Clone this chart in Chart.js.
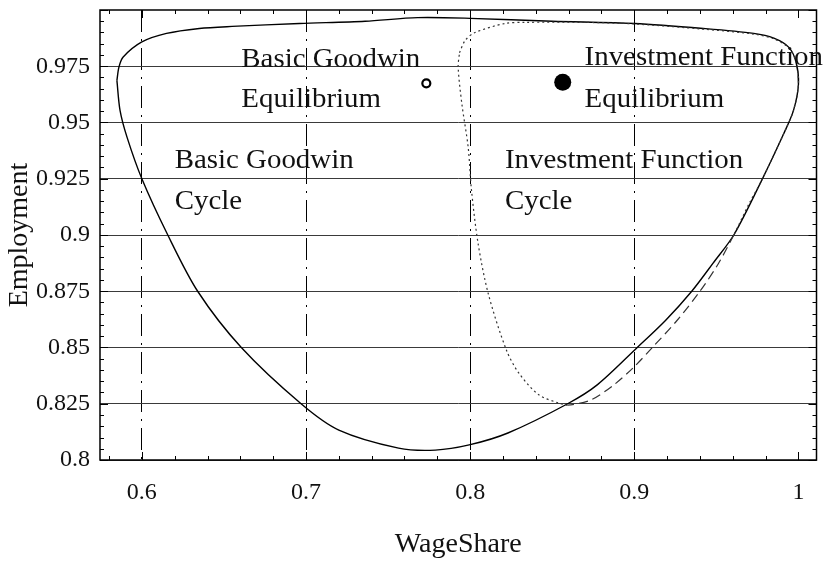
<!DOCTYPE html>
<html>
<head>
<meta charset="utf-8">
<script src="https://cdn.jsdelivr.net/npm/chart.js@4.4.1/dist/chart.umd.min.js"></script>
<style>
  html, body { margin: 0; padding: 0; background: #fff; }
  .chart-wrap { width: 825px; height: 562px; position: relative; }
</style>
</head>
<body>
<div class="chart-wrap"><canvas id="cycles"></canvas></div>
<script>
/* ======== Data ======== */
const xTickVals = [0.6, 0.7, 0.8, 0.9, 1];
const yTickVals = [0.8, 0.825, 0.85, 0.875, 0.9, 0.925, 0.95, 0.975];

// Basic Goodwin cycle (solid)
const goodwinWage = [0.5848, 0.5867, 0.591, 0.600, 0.6158, 0.634, 0.6606, 0.697, 0.720, 0.7564, 0.7788, 0.7994,
  0.823, 0.8594, 0.8776, 0.9018, 0.919, 0.935, 0.948, 0.9606, 0.9776, 0.991, 0.997, 1.000, 0.9985, 0.994,
  0.985, 0.9727, 0.942, 0.900, 0.850, 0.800, 0.768, 0.736, 0.696, 0.655, 0.635, 0.615, 0.600, 0.5885, 0.586, 0.5848];
const goodwinEmp = [0.9687, 0.9554, 0.9434, 0.925, 0.900, 0.875, 0.850, 0.825, 0.8133, 0.8053, 0.8044, 0.8067,
  0.812, 0.825, 0.8335, 0.850, 0.862, 0.875, 0.8875, 0.900, 0.9243, 0.945, 0.9554, 0.967, 0.977, 0.9835,
  0.9875, 0.9896, 0.9918, 0.994, 0.995, 0.9963, 0.9966, 0.995, 0.994, 0.9927, 0.9918, 0.9896, 0.9858, 0.979, 0.9745, 0.9687];

// Investment function cycle (dotted / dashed)
const investWage = [0.7935, 0.797, 0.803, 0.8212, 0.8333, 0.870, 0.900, 0.942, 0.9727, 0.985, 0.994, 0.9985,
  1.000, 0.997, 0.991, 0.9776, 0.970, 0.9606, 0.951, 0.940, 0.926, 0.911, 0.900, 0.8879, 0.8733, 0.8594, 0.854,
  0.8418, 0.8297, 0.822, 0.811, 0.8048, 0.8008, 0.7988, 0.795, 0.7927, 0.7935];
const investEmp = [0.9810, 0.9865, 0.990, 0.994, 0.9945, 0.9945, 0.9938, 0.9915, 0.9893, 0.9872, 0.9832, 0.977,
  0.967, 0.9554, 0.945, 0.9243, 0.914, 0.900, 0.887, 0.875, 0.862, 0.850, 0.8415, 0.8336, 0.8266, 0.8244, 0.8253,
  0.829, 0.8386, 0.849, 0.874, 0.8964, 0.920, 0.939, 0.958, 0.9745, 0.9810];

// Equilibria
const goodwinEq = [0.7733, 0.9674];
const investEq = [0.8564, 0.9679];

// Text labels: [text, wage, employment(baseline)]
const notes = [
  ['Basic Goodwin', 0.6606, 0.9745],
  ['Equilibrium', 0.6606, 0.9568],
  ['Basic Goodwin', 0.620, 0.9297],
  ['Cycle', 0.620, 0.9115],
  ['Investment Function', 0.8697, 0.9754],
  ['Equilibrium', 0.8697, 0.9568],
  ['Investment Function', 0.8212, 0.9297],
  ['Cycle', 0.8212, 0.9115]
];

/* ======== Helpers ======== */
const pts = (xs, ys) => xs.map((x, i) => ({ x, y: ys[i] }));
const SERIF = "'Liberation Serif', 'Times New Roman', serif";
const noEdgePad = s => { s.paddingTop = 0; s.paddingBottom = 0; s.paddingLeft = 0; s.paddingRight = 0; };

/* ======== Frame, minor ticks, text ======== */
const framePlugin = {
  id: 'frame',
  afterDatasetsDraw(chart) {
    const { ctx, chartArea: a, scales: { x, y } } = chart;
    ctx.save();
    ctx.strokeStyle = '#000';
    ctx.lineWidth = 1.5;
    ctx.strokeRect(a.left, a.top, a.right - a.left, a.bottom - a.top);

    ctx.lineWidth = 1;
    // y ticks, left + right
    for (let v = 0.8; v <= 1.0001; v += 0.005) {
      const py = Math.round(y.getPixelForValue(v)) + 0.5;
      const major = Math.abs(v * 40 - Math.round(v * 40)) < 1e-6;
      const len = major ? 8 : 4;
      ctx.beginPath();
      ctx.moveTo(a.left, py); ctx.lineTo(a.left + len, py);
      ctx.moveTo(a.right, py); ctx.lineTo(a.right - len, py);
      ctx.stroke();
    }
    // x ticks, bottom + top
    for (let v = 0.58; v <= 1.0101; v += 0.02) {
      const px = Math.round(x.getPixelForValue(v)) + 0.5;
      const major = Math.abs(v * 10 - Math.round(v * 10)) < 1e-6;
      const len = major ? 8 : 4;
      ctx.beginPath();
      ctx.moveTo(px, a.bottom); ctx.lineTo(px, a.bottom - len);
      ctx.moveTo(px, a.top); ctx.lineTo(px, a.top + len);
      ctx.stroke();
    }

    // labels (the scanned type is a bit wide, so stretch slightly)
    ctx.fillStyle = '#111';
    ctx.font = '27px ' + SERIF;
    ctx.textBaseline = 'alphabetic';
    ctx.textAlign = 'left';
    notes.forEach(([t, wx, wy]) => {
      ctx.save();
      ctx.translate(x.getPixelForValue(wx), y.getPixelForValue(wy));
      ctx.scale(1.07, 1);
      ctx.fillText(t, 0, 0);
      ctx.restore();
    });
    ctx.restore();
  }
};

/* ======== Chart ======== */
new Chart(document.getElementById('cycles'), {
  type: 'scatter',
  data: {
    datasets: [
      {
        label: 'Basic Goodwin Cycle',
        data: pts(goodwinWage, goodwinEmp),
        showLine: true,
        borderColor: '#000',
        borderWidth: 1.4,
        pointRadius: 0,
        tension: 0.3,
        order: 2
      },
      {
        label: 'Investment Function Cycle',
        data: pts(investWage, investEmp),
        showLine: true,
        borderColor: '#333',
        borderWidth: 1.2,
        pointRadius: 0,
        tension: 0.3,
        segment: {
          borderDash: c => (c.p0.parsed.x > 0.865 && c.p0.parsed.y < 0.905) ? [9, 5] : [2, 3]
        },
        order: 1
      },
      {
        label: 'Basic Goodwin Equilibrium',
        data: [{ x: goodwinEq[0], y: goodwinEq[1] }],
        pointRadius: 4,
        pointBackgroundColor: '#fff',
        pointBorderColor: '#000',
        pointBorderWidth: 2.2
      },
      {
        label: 'Investment Function Equilibrium',
        data: [{ x: investEq[0], y: investEq[1] }],
        pointRadius: 8.5,
        pointBackgroundColor: '#000',
        pointBorderColor: '#000',
        pointBorderWidth: 0
      }
    ]
  },
  options: {
    responsive: true,
    maintainAspectRatio: false,
    animation: false,
    layout: { padding: { top: 10, right: 6, left: 0, bottom: 0 } },
    plugins: { legend: { display: false }, tooltip: { enabled: false } },
    scales: {
      x: {
        type: 'linear',
        min: 0.5745,
        max: 1.011,
        afterBuildTicks: s => { s.ticks = xTickVals.map(v => ({ value: v })); },
        afterFit: s => { s.height = 102; noEdgePad(s); },
        grid: {
          drawTicks: false,
          color: c => (c.tick && c.tick.value >= 1) ? 'rgba(0,0,0,0)' : '#000',
          lineWidth: 1
        },
        border: { display: false, dash: [22, 7, 2, 7] },
        ticks: {
          padding: 18,
          color: '#111',
          font: { family: SERIF, size: 24 },
          callback: v => String(v)
        },
        title: {
          display: true,
          text: 'WageShare',
          color: '#111',
          font: { family: SERIF, size: 28, lineHeight: 1 },
          padding: { top: 0, bottom: 3 }
        }
      },
      y: {
        type: 'linear',
        min: 0.8,
        max: 1.0,
        afterBuildTicks: s => { s.ticks = yTickVals.map(v => ({ value: v })); },
        afterFit: s => { s.width = 100; noEdgePad(s); },
        grid: {
          drawTicks: false,
          color: '#3a3a3a',
          lineWidth: 1
        },
        border: { display: false },
        ticks: {
          padding: 10,
          color: '#111',
          font: { family: SERIF, size: 24 },
          callback: v => String(v)
        },
        title: {
          display: true,
          text: 'Employment',
          color: '#111',
          font: { family: SERIF, size: 28, lineHeight: 1 },
          padding: { top: 6, bottom: 0 }
        }
      }
    }
  },
  plugins: [framePlugin]
});
</script>
</body>
</html>
